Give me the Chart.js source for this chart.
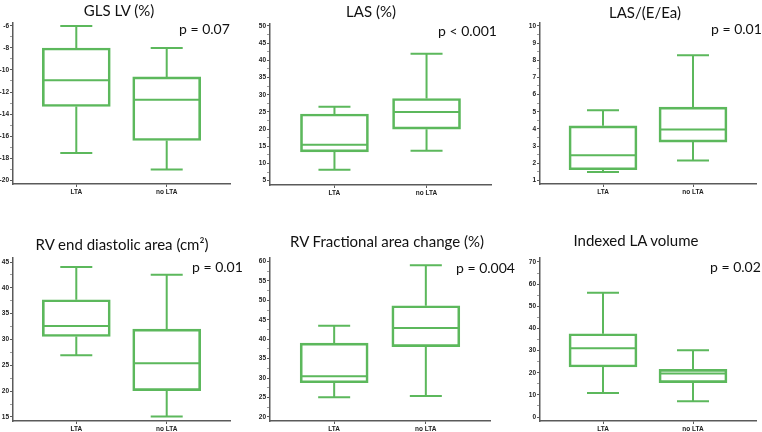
<html>
<head>
<script src="https://cdn.jsdelivr.net/npm/chart.js@4.4.1/dist/chart.umd.min.js"></script>
<style>
  body { margin:0; background:#fff; width:762px; height:432px; position:relative; overflow:hidden; }
  .panel { position:absolute; }
  .ttl { position:absolute; font-family:Lato, sans-serif; font-size:15px; color:#111; white-space:nowrap; transform:translate(-50%,-50%); }
  .pval { position:absolute; font-family:Lato, sans-serif; font-size:14px; color:#111; white-space:nowrap; transform:translateY(-50%); }
</style>
</head>
<body>

<script>
// groups on the x axis
var groups = ['LTA', 'no LTA'];

var titles = ['GLS LV (%)', 'LAS (%)', 'LAS/(E/Ea)', 'RV end diastolic area (cm\u00b2)', 'RV Fractional area change (%)', 'Indexed LA volume'];
var pValues = ['p = 0.07', 'p < 0.001', 'p = 0.01', 'p = 0.01', 'p = 0.004', 'p = 0.02'];

// [whisker low, Q1, median, Q3, whisker high] for LTA, no LTA
var glsLV  = [[-17.55, -13.32, -10.93, -8.0, -6.0], [-19.04, -16.41, -12.71, -10.63, -8.0]];
var las    = [[8.2, 13.4, 15.45, 24.4, 26.5], [13.7, 20.0, 25.0, 28.9, 41.9]];
var lasEEa = [[1.49, 1.62, 2.46, 4.18, 5.09], [2.16, 3.23, 3.97, 5.27, 8.29]];
var rvEDA  = [[26.96, 30.58, 32.59, 37.69, 44.03], [15.1, 20.1, 25.4, 32.0, 42.54]];
var rvFAC  = [[25.1, 28.8, 30.5, 39.0, 43.48], [25.4, 38.1, 42.9, 48.6, 59.0]];
var laVol  = [[10.8, 22.6, 31.1, 37.6, 56.15], [7.1, 15.5, 19.7, 21.5, 30.1]];

// y axis: labelled step and axis ends
var yStep = [2, 5, 1, 5, 5, 10];
var yMin  = [-20.36, 3.75, 0.79, 14.22, 18.97, -1.8];
var yMax  = [-5.73, 50.58, 10.17, 45.78, 60.88, 71.8];

var summaries = [glsLV, las, lasEEa, rvEDA, rvFAC, laVol];

// layout: canvas [left, top, w, h], y axis width, padding [top,right,bottom], title xy, p xy
var layoutBoxes = [
  {c:[0,0,254,200],   yw:13, pad:[23,24,6], t:[119,10],  p:[179,28]},
  {c:[254,0,254,200], yw:16, pad:[24,17,5], t:[371,11],  p:[438,30]},
  {c:[508,0,254,200], yw:32, pad:[23,6,6],  t:[645,12],  p:[711,28]},
  {c:[0,200,254,232],   yw:13, pad:[58,24,1], t:[122,244], p:[192,266]},
  {c:[254,200,254,232], yw:16, pad:[58,18,1], t:[387,241], p:[456,267]},
  {c:[508,200,254,232], yw:32, pad:[58,6,1],  t:[636,240], p:[710,266]}
];

var green = '#5cb85c';
var axisColor = '#5a5a5a';

var boxWhiskers = {
  id: 'boxWhiskers',
  afterDatasetsDraw: function(chart) {
    var s = chart.options.plugins.boxWhiskers.summary;
    var xs = chart.scales.x, ys = chart.scales.y, ctx = chart.ctx;
    var bars = chart.getDatasetMeta(0).data;
    ctx.save();
    ctx.strokeStyle = green;
    ctx.lineWidth = 2;
    s.forEach(function(v, i) {
      var cx = xs.getPixelForValue(i);
      var half = bars[i].width / 2 - 1;
      var cap = 16;
      var yLo = ys.getPixelForValue(v[0]), yQ1 = ys.getPixelForValue(v[1]);
      var yMed = ys.getPixelForValue(v[2]), yQ3 = ys.getPixelForValue(v[3]);
      var yHi = ys.getPixelForValue(v[4]);
      ctx.beginPath();
      ctx.moveTo(cx - half, yMed); ctx.lineTo(cx + half, yMed);
      ctx.moveTo(cx, yQ3); ctx.lineTo(cx, yHi);
      ctx.moveTo(cx - cap, yHi); ctx.lineTo(cx + cap, yHi);
      ctx.moveTo(cx, yQ1); ctx.lineTo(cx, yLo);
      ctx.moveTo(cx - cap, yLo); ctx.lineTo(cx + cap, yLo);
      ctx.stroke();
    });
    ctx.restore();
  }
};

var tickFont = {family: 'Liberation Sans, Arial', size: 6.5, weight: 'bold'};

summaries.forEach(function(summary, k) {
  var L = layoutBoxes[k];
  var div = document.createElement('div');
  div.className = 'panel';
  div.style.left = L.c[0] + 'px'; div.style.top = L.c[1] + 'px';
  var cv = document.createElement('canvas');
  cv.width = L.c[2]; cv.height = L.c[3];
  div.appendChild(cv);
  document.body.appendChild(div);

  var t = document.createElement('div');
  t.className = 'ttl'; t.textContent = titles[k];
  t.style.left = L.t[0] + 'px'; t.style.top = L.t[1] + 'px';
  document.body.appendChild(t);
  var p = document.createElement('div');
  p.className = 'pval'; p.textContent = pValues[k];
  p.style.left = L.p[0] + 'px'; p.style.top = L.p[1] + 'px';
  document.body.appendChild(p);

  var step = yStep[k];
  new Chart(cv, {
    type: 'bar',
    data: {
      datasets: [{
        data: summary.map(function(v, i) { return {x: i, y: [v[1], v[3]]}; }),
        backgroundColor: 'rgba(0,0,0,0)',
        borderColor: green,
        borderWidth: 2,
        borderSkipped: false,
        barThickness: 68
      }]
    },
    options: {
      responsive: false,
      animation: false,
      devicePixelRatio: 1,
      layout: {padding: {top: L.pad[0], right: L.pad[1], bottom: L.pad[2], left: 0}},
      plugins: {
        legend: {display: false},
        tooltip: {enabled: false},
        boxWhiskers: {summary: summary}
      },
      scales: {
        x: {
          type: 'linear', min: -0.7, max: 1.7, offset: false,
          afterBuildTicks: function(sc) { sc.ticks = groups.map(function(g, i) { return {value: i}; }); },
          afterFit: function(sc) { sc.height = 10; sc.paddingLeft = 0; sc.paddingRight = 0; },
          ticks: {font: tickFont, color: '#222', padding: 1, maxRotation: 0,
                  callback: function(v, i) { return groups[i]; }},
          grid: {drawOnChartArea: false, tickLength: 3, color: axisColor, offset: false},
          border: {color: axisColor, width: 1.5}
        },
        y: {
          min: yMin[k], max: yMax[k],
          afterFit: function(sc) { sc.width = L.yw; sc.paddingTop = 0; sc.paddingBottom = 0; },
          ticks: {
            stepSize: step / 2, includeBounds: false, autoSkip: false,
            font: tickFont, color: '#222', padding: 1,
            callback: function(v) { return Math.abs(v % step) < 1e-6 ? String(v) : ''; }
          },
          grid: {drawOnChartArea: false, tickLength: 3, color: axisColor,
                 tickWidth: function(c) { return c.tick && c.tick.label === '' ? 0.6 : 1; }},
          border: {color: axisColor, width: 1.5}
        }
      }
    },
    plugins: [boxWhiskers]
  });
});
</script>
</body>
</html>
